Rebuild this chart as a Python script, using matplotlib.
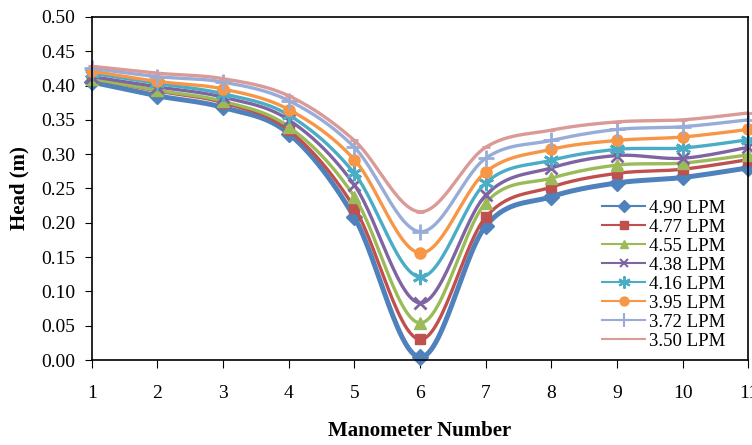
import numpy as np
import matplotlib.pyplot as plt
from matplotlib.lines import Line2D

plt.rcParams['font.family'] = ['Liberation Serif', 'DejaVu Serif']

manometer = [1, 2, 3, 4, 5, 6, 7, 8, 9, 10, 11]
flow_labels = ['4.90 LPM', '4.77 LPM', '4.55 LPM', '4.38 LPM',
               '4.16 LPM', '3.95 LPM', '3.72 LPM', '3.50 LPM']

head_490 = [0.405, 0.385, 0.368, 0.330, 0.208, 0.004, 0.195, 0.238, 0.258, 0.266, 0.280]
head_477 = [0.410, 0.392, 0.375, 0.335, 0.222, 0.030, 0.208, 0.252, 0.272, 0.278, 0.292]
head_455 = [0.410, 0.393, 0.377, 0.340, 0.238, 0.054, 0.229, 0.265, 0.284, 0.287, 0.299]
head_438 = [0.413, 0.398, 0.383, 0.350, 0.255, 0.083, 0.240, 0.280, 0.298, 0.294, 0.310]
head_416 = [0.418, 0.403, 0.388, 0.357, 0.272, 0.121, 0.258, 0.291, 0.307, 0.309, 0.321]
head_395 = [0.421, 0.406, 0.395, 0.365, 0.292, 0.156, 0.274, 0.307, 0.320, 0.325, 0.336]
head_372 = [0.425, 0.413, 0.405, 0.378, 0.310, 0.187, 0.294, 0.320, 0.336, 0.340, 0.350]
head_350 = [0.428, 0.418, 0.410, 0.385, 0.320, 0.216, 0.310, 0.335, 0.347, 0.350, 0.360]

series = [head_490, head_477, head_455, head_438, head_416, head_395, head_372, head_350]
colors = ['#4F81BD', '#C0504D', '#9BBB59', '#8064A2',
          '#4BACC6', '#F79646', '#97ACD8', '#D99A98']
markers = ['D', 's', '^', 'x', (6, 2, 0), 'o', '+', '_']
msizes = [8, 7, 8, 8, 11, 8, 12, 6]
lwidths = [3.6, 2.4, 2.4, 2.4, 2.4, 2.4, 2.4, 2.4]
thin = ('x', '+', '_', (6, 2, 0))


def smooth(x, y, n=30):
    # cubic bezier segments with catmull-rom style handles
    x = np.asarray(x, float)
    y = np.asarray(y, float)
    px = np.concatenate([[x[0]], x, [x[-1]]])
    py = np.concatenate([[y[0]], y, [y[-1]]])
    t = np.linspace(0, 1, n)[:, None]
    xs, ys = [], []
    for i in range(len(x) - 1):
        p0 = np.array([px[i + 1], py[i + 1]])
        p3 = np.array([px[i + 2], py[i + 2]])
        p1 = p0 + (np.array([px[i + 2], py[i + 2]]) - np.array([px[i], py[i]])) / 6
        p2 = p3 - (np.array([px[i + 3], py[i + 3]]) - np.array([px[i + 1], py[i + 1]])) / 6
        pts = ((1 - t) ** 3) * p0 + 3 * ((1 - t) ** 2) * t * p1 + 3 * (1 - t) * t ** 2 * p2 + t ** 3 * p3
        xs.append(pts[:, 0])
        ys.append(pts[:, 1])
    return np.concatenate(xs), np.concatenate(ys)


fig = plt.figure(figsize=(7.52, 4.45), dpi=100)
ax = fig.add_axes([0.122, 0.191, 0.873, 0.771])

handles = []
for vals, c, m, ms, lw, lab in zip(series, colors, markers, msizes, lwidths, flow_labels):
    sx, sy = smooth(manometer, vals)
    ax.plot(sx, sy, color=c, lw=lw, solid_capstyle='round', clip_on=False)
    ax.plot(manometer, vals, ls='none', marker=m, ms=ms, color=c,
            mec=c, mew=2 if m in thin else 1, clip_on=False)
    handles.append(Line2D([], [], color=c, lw=1.5, marker=m, ms=ms * 0.8,
                          mew=1.5 if m in thin else 1, label=lab))

ax.set_xlim(1, 11)
ax.set_ylim(0, 0.5)
ax.set_xticks(manometer)
ax.set_yticks(np.arange(0, 0.501, 0.05))
ax.set_yticklabels([f'{v:.2f}' for v in np.arange(0, 0.501, 0.05)])
ax.tick_params(axis='x', direction='out', length=6, pad=12, labelsize=14)
ax.tick_params(axis='y', direction='out', length=5, pad=7, labelsize=14)
for s in ax.spines.values():
    s.set_linewidth(1.2)

ax.set_xlabel('Manometer Number', fontsize=15, fontweight='bold', labelpad=14)
ax.set_ylabel('Head (m)', fontsize=15, fontweight='bold', labelpad=8)

ax.legend(handles=handles, loc='lower right', frameon=False, fontsize=13.5,
          handlelength=2.3, handletextpad=0.2, labelspacing=0.1,
          borderpad=0, borderaxespad=0, bbox_to_anchor=(0.965, 0.03))

fig.savefig('out.png', dpi=100)
